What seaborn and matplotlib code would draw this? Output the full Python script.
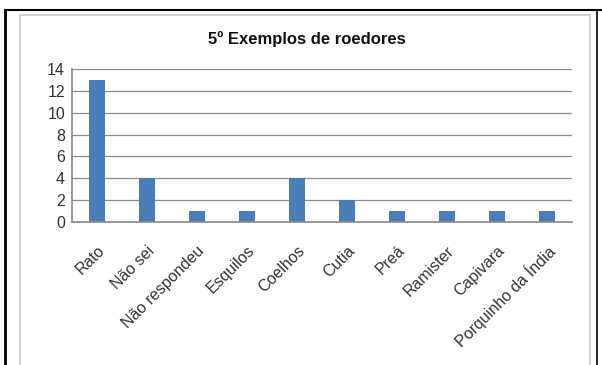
import matplotlib
matplotlib.use("Agg")
import matplotlib.pyplot as plt
import seaborn as sns
import pandas as pd
from matplotlib.patches import Rectangle
from matplotlib.lines import Line2D

categories = ["Rato", "Não sei", "Não respondeu", "Esquilos", "Coelhos", "Cutia",
              "Preá", "Ramister", "Capivara", "Porquinho da Índia"]
values = [13, 4, 1, 1, 4, 2, 1, 1, 1, 1]
yticks = [0, 2, 4, 6, 8, 10, 12, 14]
title = "5º Exemplos de roedores"

sns.set_theme(style="white")
plt.rcParams['font.family'] = ['Liberation Sans', 'DejaVu Sans']

W, H = 602, 365
fig = plt.figure(figsize=(W/100, H/100), dpi=100)
fig.patch.set_facecolor("white")

# document frame lines
fig.add_artist(Line2D([5/W, 5/W], [0, 1-10/H], color="black", lw=2, transform=fig.transFigure))
fig.add_artist(Line2D([5/W, 1], [1-10/H, 1-10/H], color="black", lw=1.5, transform=fig.transFigure))
fig.add_artist(Line2D([597/W, 597/W], [0, 1-10/H], color="black", lw=1.2, transform=fig.transFigure))
# chart box
fig.add_artist(Rectangle((20/W, -0.01), 570/W, 1-15/H+0.01, transform=fig.transFigure,
                         fill=False, edgecolor="#c8c8c8", lw=1.2))

ax = fig.add_axes([72/W, 1-222/H, 500/W, (222-69)/H])
df = pd.DataFrame({"cat": categories, "val": values})
sns.barplot(data=df, x="cat", y="val", color="#4a7ebb", width=0.33, ax=ax,
            saturation=1, edgecolor="none")
ax.set_ylim(0, 14)
ax.set_xlim(-0.5, len(categories)-0.5)
ax.set_yticks(yticks)
ax.set_yticklabels([str(t) for t in yticks], fontsize=11.5, color="#333333")
ax.set_xticks(range(len(categories)))
ax.set_xticklabels(categories, rotation=45, ha="right", rotation_mode="anchor",
                   fontsize=11.5, color="#333333")
ax.set_xlabel("")
ax.set_ylabel("")
ax.yaxis.grid(True, color="#8c8c8c", lw=0.9)
ax.set_axisbelow(True)
for s in ["top", "right"]:
    ax.spines[s].set_visible(False)
ax.spines["left"].set_color("#8c8c8c")
ax.spines["bottom"].set_color("#8c8c8c")
ax.tick_params(axis="y", length=0, pad=5)
ax.tick_params(axis="x", length=0, pad=15)
fig.text(307/W, 1-39/H, title, ha="center", va="center", fontsize=12, fontweight="bold", color="#111111")

fig.savefig("out.png", dpi=100)
